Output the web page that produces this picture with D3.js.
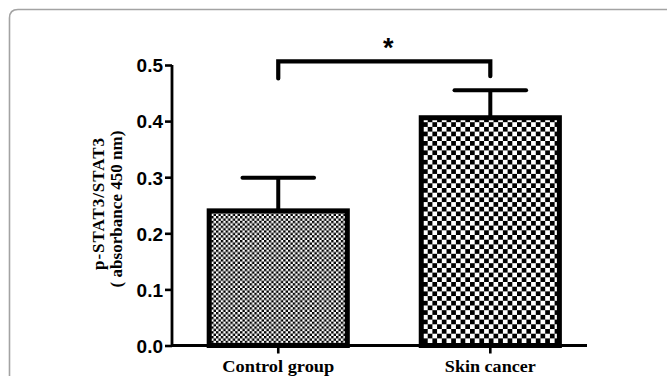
<!DOCTYPE html>
<html>
<head>
<meta charset="utf-8">
<script src="https://cdn.jsdelivr.net/npm/d3@7"></script>
<style>
  html, body { margin: 0; padding: 0; background: #fff; }
  svg { display: block; }
</style>
</head>
<body>
<script>
// Data
const groups = ["Control group", "Skin cancer"];
const means = [0.240, 0.406];
const errors = [0.059, 0.049];
const yTicks = [0, 0.1, 0.2, 0.3, 0.4, 0.5];
const yLabelLines = ["p-STAT3/STAT3", "( absorbance 450 nm)"];
const significance = "*";

const width = 667;
const height = 376;

const svg = d3
  .select("body")
  .append("svg")
  .attr("width", width)
  .attr("height", height);

// Rounded gray frame (runs off the right and bottom)
svg
  .append("path")
  .attr("d", "M9.5,400 L9.5,18 Q9.5,9.5 18,9.5 L680,9.5")
  .attr("fill", "none")
  .attr("stroke", "#a3a3a3")
  .attr("stroke-width", 1.6);

// Checkerboard fills
const defs = svg.append("defs");
function checker(id, cell) {
  const p = defs
    .append("pattern")
    .attr("id", id)
    .attr("patternUnits", "userSpaceOnUse")
    .attr("width", cell * 2)
    .attr("height", cell * 2);
  p.append("rect").attr("width", cell * 2).attr("height", cell * 2).attr("fill", "#fff");
  p.append("rect").attr("width", cell).attr("height", cell).attr("fill", "#000");
  p.append("rect").attr("x", cell).attr("y", cell).attr("width", cell).attr("height", cell).attr("fill", "#000");
}
checker("fine", 2.4);
checker("coarse", 4.7);
const fills = ["url(#fine)", "url(#coarse)"];

// Scales
const x = d3
  .scaleBand()
  .domain(groups)
  .range([172, 587])
  .paddingInner(0.325)
  .paddingOuter(0.141)
  .align(0.58);

const y = d3.scaleLinear().domain([0, 0.5]).range([345.5, 65]);

const barStroke = 5;

// Error bars (drawn first, bars cover the lower part)
const errG = svg.append("g");
groups.forEach((g, i) => {
  const cx = x(g) + x.bandwidth() / 2;
  errG
    .append("line")
    .attr("x1", cx)
    .attr("x2", cx)
    .attr("y1", y(means[i]))
    .attr("y2", y(means[i] + errors[i]))
    .attr("stroke", "#000")
    .attr("stroke-width", 4);
  errG
    .append("line")
    .attr("x1", cx - x.bandwidth() * 0.25)
    .attr("x2", cx + x.bandwidth() * 0.25)
    .attr("y1", y(means[i] + errors[i]))
    .attr("y2", y(means[i] + errors[i]))
    .attr("stroke", "#000")
    .attr("stroke-width", 4)
    .attr("stroke-linecap", "round");
});

// Bars
svg
  .append("g")
  .selectAll("rect")
  .data(groups)
  .join("rect")
  .attr("x", (d) => x(d) + barStroke / 2)
  .attr("width", x.bandwidth() - barStroke)
  .attr("y", (d, i) => y(means[i]))
  .attr("height", (d, i) => y(0) - y(means[i]))
  .attr("fill", (d, i) => fills[i])
  .attr("stroke", "#000")
  .attr("stroke-width", barStroke);

// Y axis
const yAxis = svg
  .append("g")
  .attr("transform", "translate(172,0)")
  .call(
    d3
      .axisLeft(y)
      .tickValues(yTicks)
      .tickFormat(d3.format(".1f"))
      .tickSize(7)
      .tickPadding(2)
  );
yAxis.select(".domain").attr("stroke-width", 2.8).attr("d", `M0,${y(0.5)}V${y(0)}`);
yAxis.selectAll(".tick line").attr("stroke-width", 2.6);
yAxis
  .selectAll(".tick text")
  .attr("fill", "#000")
  .style("font-family", "'Liberation Sans', Arial, sans-serif")
  .style("font-weight", "bold")
  .style("font-size", "19px")
  .attr("dy", "0.36em");

// X axis
const xAxis = svg
  .append("g")
  .attr("transform", `translate(0,${y(0)})`)
  .call(d3.axisBottom(x).tickSize(8).tickFormat(""));
xAxis.select(".domain").attr("stroke-width", 2.8).attr("d", "M171,0H587");
xAxis.selectAll(".tick line").attr("stroke-width", 2.6);

// X category labels
svg
  .append("g")
  .selectAll("text")
  .data(groups)
  .join("text")
  .attr("x", (d) => x(d) + x.bandwidth() / 2)
  .attr("y", 372)
  .attr("text-anchor", "middle")
  .attr("textLength", (d, i) => [112, 91][i])
  .attr("lengthAdjust", "spacingAndGlyphs")
  .style("font-family", "'Liberation Serif', 'Times New Roman', serif")
  .style("font-weight", "bold")
  .style("font-size", "17.5px")
  .text((d) => d);

// Y axis title, two rotated lines
const yTitle = svg
  .append("text")
  .attr("transform", "rotate(-90)")
  .attr("text-anchor", "middle")
  .style("font-family", "'Liberation Serif', 'Times New Roman', serif")
  .style("font-weight", "bold")
  .style("font-size", "17px");
yTitle
  .selectAll("tspan")
  .data(yLabelLines)
  .join("tspan")
  .attr("x", (d, i) => -[204, 209][i])
  .attr("y", (d, i) => [104, 122][i])
  .attr("textLength", (d, i) => [132, 157][i])
  .attr("lengthAdjust", "spacing")
  .text((d) => d);

// Significance bracket
const x0 = x(groups[0]) + x.bandwidth() / 2;
const x1 = x(groups[1]) + x.bandwidth() / 2;
svg
  .append("path")
  .attr("d", `M${x0},${y(0.476)}V${y(0.5065)}H${x1}V${y(0.48)}`)
  .attr("fill", "none")
  .attr("stroke", "#000")
  .attr("stroke-width", 4.2)
  .attr("stroke-linecap", "round");

svg
  .append("text")
  .attr("x", (x0 + x1) / 2 + 4)
  .attr("y", 57)
  .attr("text-anchor", "middle")
  .style("font-family", "'Liberation Sans', Arial, sans-serif")
  .style("font-weight", "bold")
  .style("font-size", "27px")
  .text(significance);
</script>
</body>
</html>
